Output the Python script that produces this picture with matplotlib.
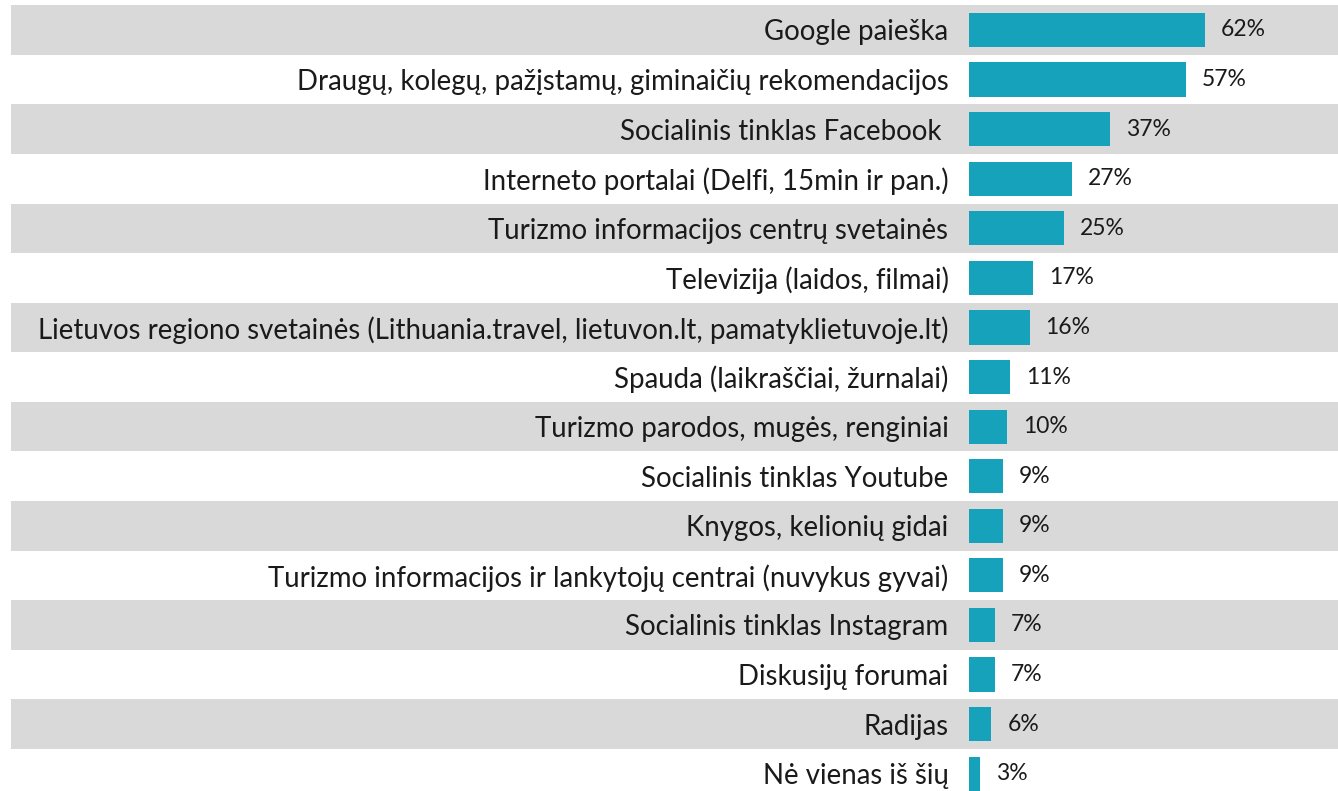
import matplotlib.pyplot as plt
import numpy as np

# Information sources and their shares (%)
sources = [
    "Google paieška",
    "Draugų, kolegų, pažįstamų, giminaičių rekomendacijos",
    "Socialinis tinklas Facebook ",
    "Interneto portalai (Delfi, 15min ir pan.)",
    "Turizmo informacijos centrų svetainės",
    "Televizija (laidos, filmai)",
    "Lietuvos regiono svetainės (Lithuania.travel, lietuvon.lt, pamatyklietuvoje.lt)",
    "Spauda (laikraščiai, žurnalai)",
    "Turizmo parodos, mugės, renginiai",
    "Socialinis tinklas Youtube",
    "Knygos, kelionių gidai",
    "Turizmo informacijos ir lankytojų centrai (nuvykus gyvai)",
    "Socialinis tinklas Instagram",
    "Diskusijų forumai",
    "Radijas",
    "Nė vienas iš šių",
]
shares = [62, 57, 37, 27, 25, 17, 16, 11, 10, 9, 9, 9, 7, 7, 6, 3]

BAR = "#16A2BA"
BAND = "#D9D9D9"
TXT = "#1A1A1A"

plt.rcParams['font.family'] = ['Lato', 'DejaVu Sans']

W, H = 1338, 791
fig = plt.figure(figsize=(W / 100, H / 100), dpi=100)

y = np.arange(len(sources))
ylim = (15.35, -0.605)

# background bands across the full width
bg = fig.add_axes([11 / W, 0, 1 - 11 / W, 1])
bg.set_ylim(*ylim)
bg.set_xlim(0, 1)
bg.axis("off")
for i in y[::2]:
    bg.axhspan(i - 0.5, i + 0.5, color=BAND, lw=0)

ax = fig.add_axes([968.5 / W, 0, 1 - 968.5 / W, 1])
ax.patch.set_alpha(0)
ax.barh(y, shares, height=0.69, color=BAR)
ax.set_ylim(*ylim)
ax.set_xlim(0, (W - 968.5) / 3.817)

for i, v in enumerate(shares):
    ax.annotate(f"{v}%", (v, i), xytext=(11.5, 0), textcoords="offset points",
                va="center", ha="left", fontsize=16.5, color=TXT)

ax.set_yticks(y)
ax.set_yticklabels(sources, fontsize=19.9, color=TXT)
ax.tick_params(axis="y", length=0, pad=14.4)
ax.set_xticks([])
for s in ax.spines.values():
    s.set_visible(False)

fig.savefig("out.png", dpi=100)
